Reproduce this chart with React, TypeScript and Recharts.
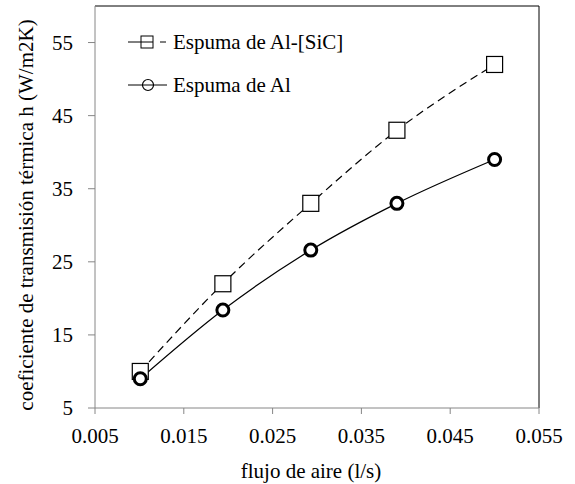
import { LineChart, Line, XAxis, YAxis, ReferenceLine } from 'recharts';

const flujo = [0.0101, 0.0194, 0.0293, 0.039, 0.05];
const espumaSiC = [10, 22, 33, 43, 52];
const espumaAl = [9, 18.4, 26.6, 33, 39];
const xTicks = [0.005, 0.015, 0.025, 0.035, 0.045, 0.055];
const yTicks = [5, 15, 25, 35, 45, 55];

const data = flujo.map((x, i) => ({ x, sic: espumaSiC[i], al: espumaAl[i] }));

const font = '"Liberation Serif", "Times New Roman", serif';
const fs = 21;

const SquareDot = (props: any) => {
  const { cx, cy } = props;
  if (cx == null || cy == null) return null;
  return <rect x={cx - 8} y={cy - 8} width={16} height={16} fill="#fff" stroke="#000" strokeWidth={1.2} />;
};

const CircleDot = (props: any) => {
  const { cx, cy } = props;
  if (cx == null || cy == null) return null;
  return <circle cx={cx} cy={cy} r={6} fill="#fff" stroke="#000" strokeWidth={3} />;
};

const XTick = ({ x, y, payload }: any) => (
  <text x={x} y={y + 27} textAnchor="middle" fontFamily={font} fontSize={fs} fill="#000">
    {Number(payload.value).toFixed(3)}
  </text>
);

const YTick = ({ x, y, payload }: any) => (
  <text x={x - 13} y={y + 7} textAnchor="end" fontFamily={font} fontSize={fs} fill="#000">
    {payload.value}
  </text>
);

const XLabel = ({ viewBox }: any) => (
  <text x={viewBox.x + viewBox.width / 2 - 6} y={viewBox.y + 70} textAnchor="middle" fontFamily={font} fontSize={fs} fill="#000">
    flujo de aire (l/s)
  </text>
);

const YLabel = ({ viewBox }: any) => {
  const cx = viewBox.x - 9;
  const cy = viewBox.y + viewBox.height / 2 + 8;
  return (
    <text x={cx} y={cy} transform={`rotate(-90 ${cx} ${cy})`} textAnchor="middle" dominantBaseline="central" fontFamily={font} fontSize={fs} fill="#000">
      coeficiente de transmisión térmica h (W/m2K)
    </text>
  );
};

const LegendBox = () => (
  <svg width={280} height={80} style={{ display: 'block' }}>
    <line x1={0} y1={14} x2={13} y2={14} stroke="#000" strokeWidth={1} />
    <line x1={32} y1={14} x2={38} y2={14} stroke="#000" strokeWidth={1} />
    <rect x={13} y={8} width={12} height={12} fill="#fff" stroke="#000" strokeWidth={1} />
    <line x1={13} y1={14} x2={25} y2={14} stroke="#000" strokeWidth={1} />
    <text x={45} y={21} fontFamily={font} fontSize={fs} fill="#000">Espuma de Al-[SiC]</text>
    <line x1={0} y1={57} x2={39} y2={57} stroke="#000" strokeWidth={1} />
    <circle cx={20} cy={57} r={5.5} fill="#fff" stroke="#000" strokeWidth={1.2} />
    <line x1={14} y1={57} x2={26} y2={57} stroke="#000" strokeWidth={1} />
    <text x={45} y={64} fontFamily={font} fontSize={fs} fill="#000">Espuma de Al</text>
  </svg>
);

export default function App() {
  return (
    <div style={{ position: 'absolute', left: 0, top: 0, width: 575, height: 484, background: '#fff' }}>
      <LineChart
        width={575}
        height={484}
        data={data}
        margin={{ top: 6, right: 36, bottom: 36, left: 35 }}
      >
        <XAxis
          dataKey="x"
          type="number"
          domain={[0.005, 0.055]}
          ticks={xTicks}
          tick={<XTick />}
          stroke="#868686"
          tickLine={{ stroke: '#868686' }}
          tickSize={6}
          height={40}
          label={<XLabel />}
        />
        <YAxis
          type="number"
          domain={[5, 60]}
          ticks={yTicks}
          tick={<YTick />}
          stroke="#868686"
          tickLine={{ stroke: '#868686' }}
          tickSize={7}
          width={60}
          label={<YLabel />}
        />
        <ReferenceLine x={0.055} stroke="#000" strokeWidth={1} />
        <ReferenceLine y={60} stroke="#000" strokeWidth={1} />
        <Line
          dataKey="sic"
          type="monotone"
          stroke="#000"
          strokeWidth={1.2}
          strokeDasharray="8 5"
          dot={<SquareDot />}
          isAnimationActive={false}
        />
        <Line
          dataKey="al"
          type="monotone"
          stroke="#000"
          strokeWidth={1.2}
          dot={<CircleDot />}
          isAnimationActive={false}
        />
      </LineChart>
      <div style={{ position: 'absolute', left: 128, top: 28 }}>
        <LegendBox />
      </div>
    </div>
  );
}
